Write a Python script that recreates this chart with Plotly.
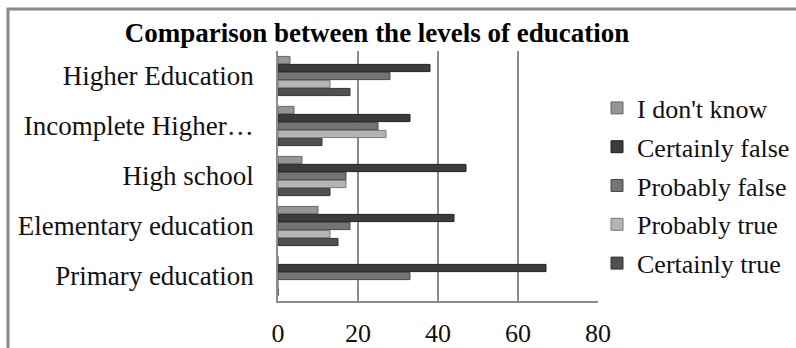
import plotly.graph_objects as go

# Education levels, listed bottom to top
levels = ["Primary education", "Elementary education", "High school",
          "Incomplete Higher…", "Higher Education"]

# Answer shares per level (same order as levels)
certainly_true = [0, 15, 13, 11, 18]
probably_true = [0, 13, 17, 27, 13]
probably_false = [33, 18, 17, 25, 28]
certainly_false = [67, 44, 47, 33, 38]
dont_know = [0, 10, 6, 4, 3]

x_ticks = [0, 20, 40, 60, 80]

series = [
    ("Certainly true", certainly_true, "#505050", "#333333"),
    ("Probably true", probably_true, "#b4b4b4", "#7a7a7a"),
    ("Probably false", probably_false, "#747474", "#4a4a4a"),
    ("Certainly false", certainly_false, "#3c3c3c", "#222222"),
    ("I don't know", dont_know, "#959595", "#666666"),
]

serif = "Times New Roman, Liberation Serif, serif"

fig = go.Figure()
n = len(series)
for i, (name, vals, fill, edge) in enumerate(series):
    fig.add_trace(go.Bar(
        y=levels, x=vals, name=name, orientation="h",
        legendgroup=f"g{i}", legendrank=n - i,
        marker=dict(color=fill, line=dict(color=edge, width=1)),
    ))

L, R, T, B = 278, 198, 51, 47
W, H = 796, 348
pw, ph = W - L - R, H - T - B

fig.update_layout(
    width=W, height=H,
    margin=dict(l=L, r=R, t=T, b=B, autoexpand=False),
    paper_bgcolor="white", plot_bgcolor="white",
    barmode="group", bargap=0.2, bargroupgap=0.1,
    font=dict(family=serif, size=27, color="#111111"),
    title=dict(
        text="Comparison between the levels of education",
        font=dict(family=serif, size=27, color="#000000", weight="bold"),
        x=377 / W, xanchor="center", xref="container",
        y=1 - 33 / H, yanchor="middle", yref="container",
    ),
    xaxis=dict(
        range=[0, 80], tickvals=x_ticks, ticks="",
        showgrid=True, gridcolor="#8c8c8c", gridwidth=1.5,
        showline=True, linecolor="#8c8c8c", linewidth=1.5,
        zeroline=False, ticklabelstandoff=8,
        tickfont=dict(family=serif, size=26),
    ),
    yaxis=dict(
        categoryorder="array", categoryarray=levels,
        range=[-0.5, 4.5], ticks="",
        showline=True, linecolor="#8c8c8c", linewidth=1.5,
        showgrid=False, ticklabelstandoff=17,
        tickfont=dict(family=serif, size=27),
    ),
    legend=dict(
        traceorder="grouped", tracegroupgap=2,
        x=(597 - L) / pw, xanchor="left",
        y=(301 - 186) / ph, yanchor="middle",
        font=dict(family=serif, size=26),
        bgcolor="rgba(0,0,0,0)", itemwidth=30,
    ),
    shapes=[
        # chart frame, only its top and left edges fall inside the page
        dict(type="rect", xref="paper", yref="paper",
             x0=(8 - L) / pw, x1=(W + 20 - L) / pw,
             y0=-(B + 20) / ph, y1=(H - B - 9) / ph,
             line=dict(color="#8a8a8a", width=3), layer="below"),
    ],
)

fig.write_html("out.html")
